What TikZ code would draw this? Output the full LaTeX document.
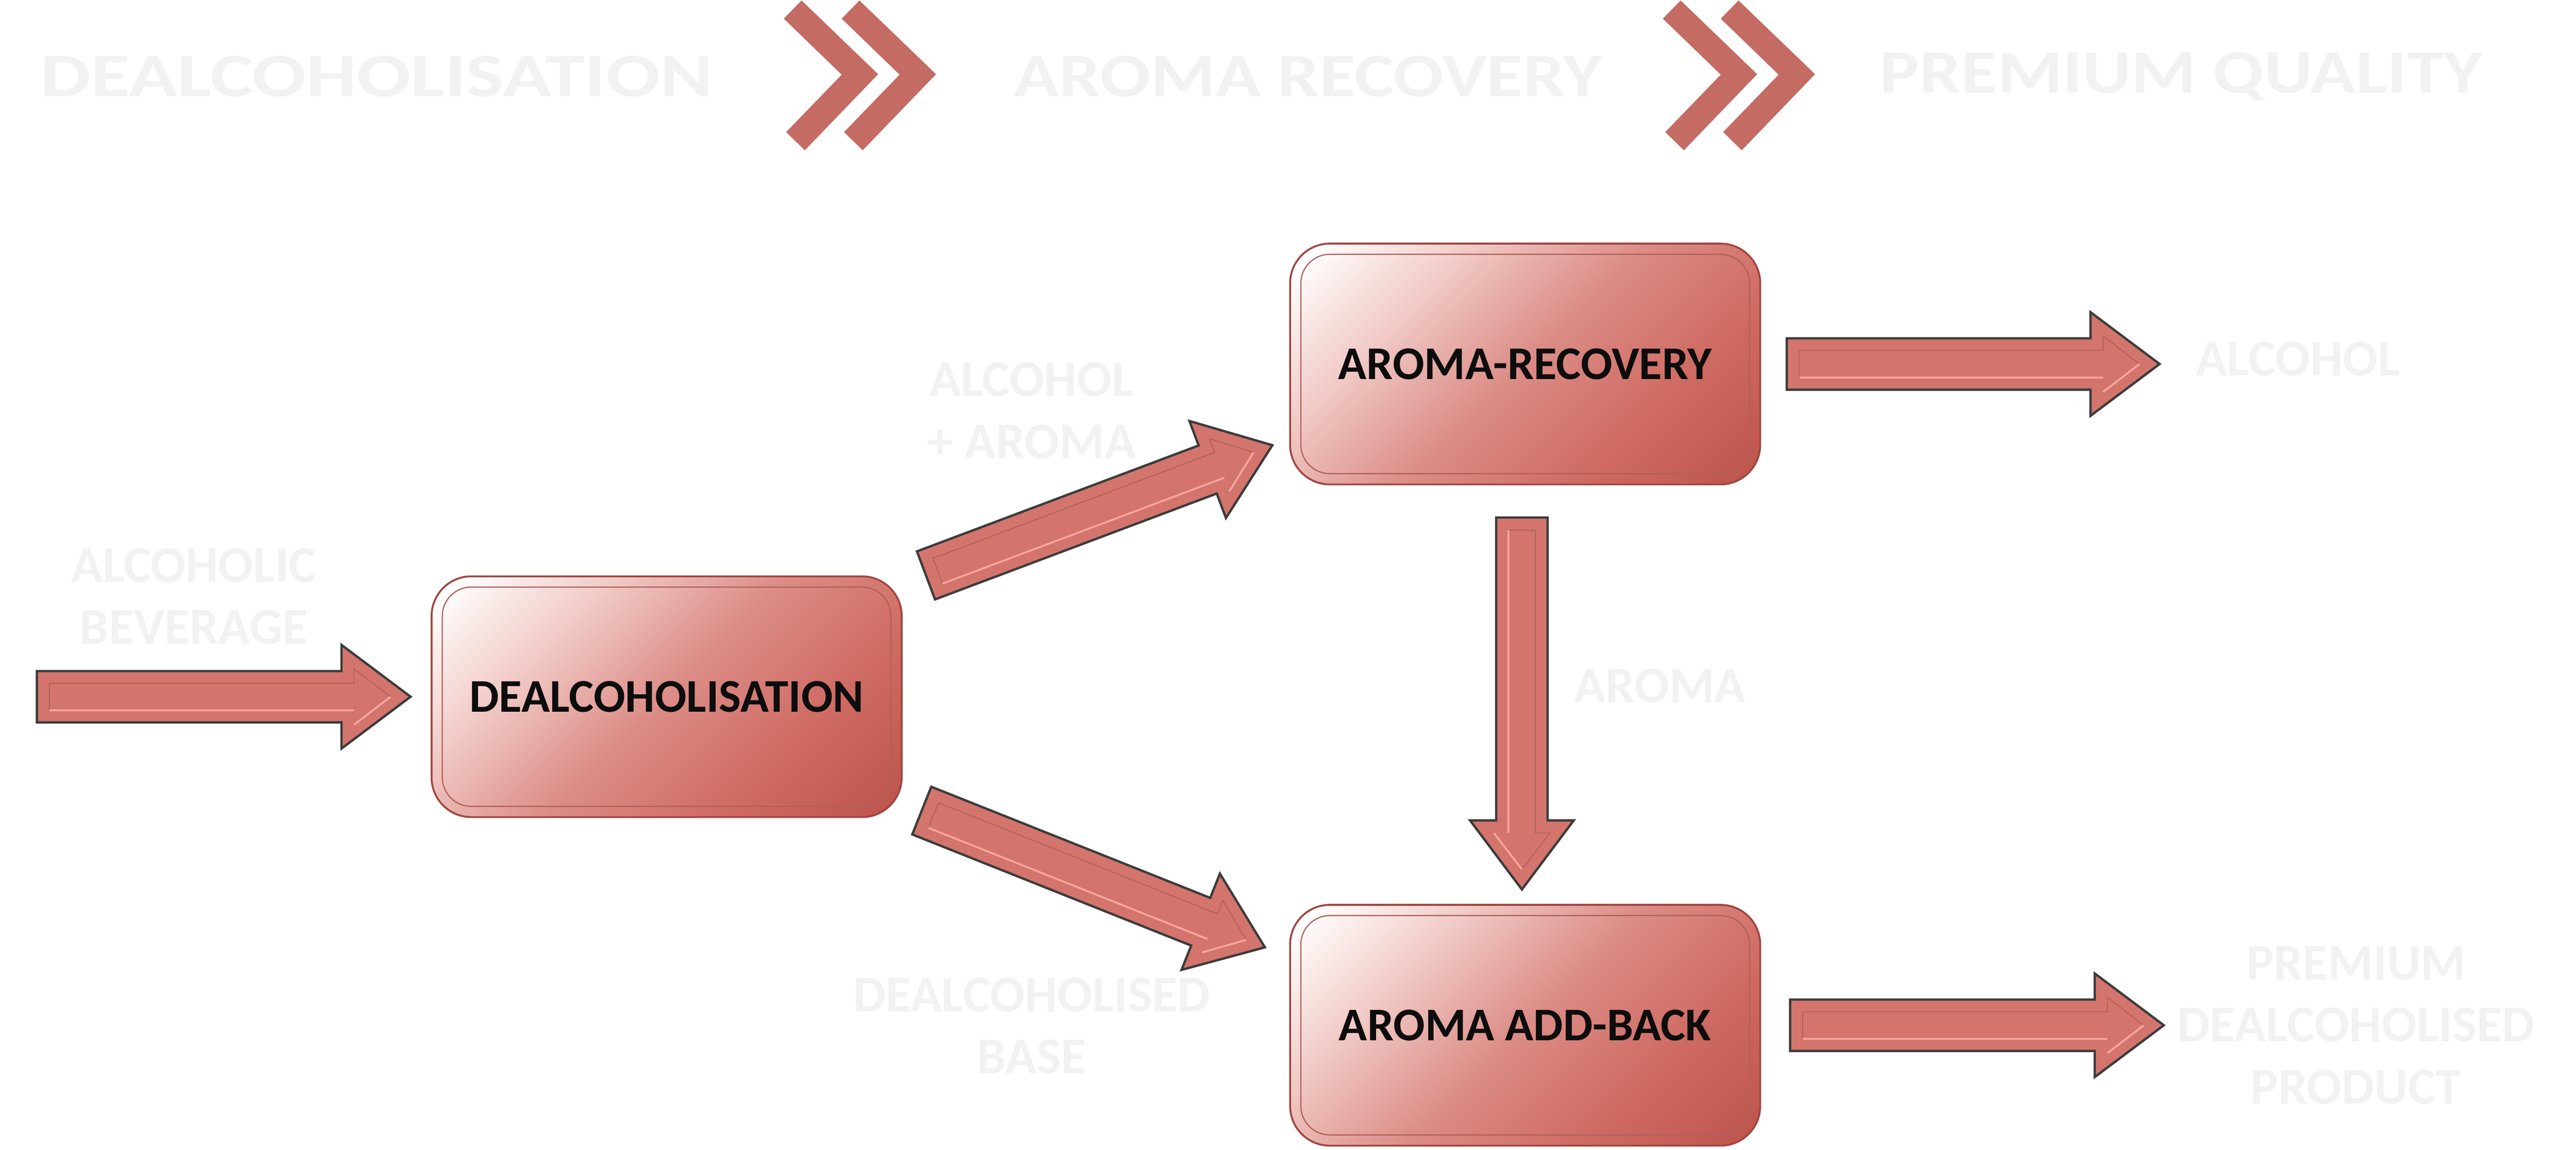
\documentclass[tikz,border=0pt]{standalone}
\usepackage{fontspec}
\setmainfont{Carlito}
\newfontfamily\stagefont[FakeStretch=1.2]{Carlito}
\newfontfamily\stagewidefont[FakeStretch=1.29]{Carlito}
\usetikzlibrary{calc}

\definecolor{chevronRed}{RGB}{196,107,99}
\definecolor{paleText}{RGB}{242,242,242}
\definecolor{arrowFill}{RGB}{211,117,109}
\definecolor{arrowEdge}{RGB}{60,60,60}
\definecolor{arrowShine}{RGB}{249,166,158}
\definecolor{arrowShade}{RGB}{176,96,90}
\definecolor{boxLight}{RGB}{242,205,201}
\definecolor{boxMid}{RGB}{220,140,134}
\definecolor{boxRose}{RGB}{206,106,98}
\definecolor{boxDark}{RGB}{186,80,72}
\definecolor{boxEdge}{RGB}{160,70,64}
\definecolor{boxText}{RGB}{13,13,13}

\pgfdeclarehorizontalshading{boxglow}{100bp}{color(0bp)=(white); color(17bp)=(white); color(32bp)=(boxLight); color(50bp)=(boxMid); color(68bp)=(boxRose); color(88bp)=(boxDark); color(100bp)=(boxDark)}

% block arrow from #1 (tail) to #2 (tip)
\newcommand{\flowArrow}[2]{%
  \coordinate (fa tail) at (#1);
  \coordinate (fa tip) at (#2);
  \coordinate (fa base) at ($(fa tip)!1.48cm!(fa tail)$);
  \coordinate (fa itail) at ($(fa tail)!0.27cm!(fa tip)$);
  \coordinate (fa ibase) at ($(fa base)!0.27cm!(fa tip)$);
  \coordinate (fa itip) at ($(fa tip)!0.43cm!(fa tail)$);
  \filldraw[fill=arrowFill, draw=arrowEdge, line width=0.05cm]
    ($(fa tail)!0.55cm!90:(fa tip)$) -- ($(fa base)!0.55cm!90:(fa tip)$)
    -- ($(fa base)!1.11cm!90:(fa tip)$) -- (fa tip)
    -- ($(fa base)!1.11cm!-90:(fa tip)$) -- ($(fa base)!0.55cm!-90:(fa tip)$)
    -- ($(fa tail)!0.55cm!-90:(fa tip)$) -- cycle;
  \draw[arrowShade, line width=0.02cm]
    ($(fa itail)!0.29cm!-90:(fa tip)$) -- ($(fa itail)!0.29cm!90:(fa tip)$)
    -- ($(fa ibase)!0.29cm!90:(fa tip)$) -- ($(fa ibase)!0.6cm!90:(fa tip)$) -- (fa itip);
  \draw[arrowShine, line width=0.04cm]
    ($(fa itail)!0.29cm!-90:(fa tip)$) -- ($(fa ibase)!0.29cm!-90:(fa tip)$)
    ($(fa ibase)!0.6cm!-90:(fa tip)$) -- (fa itip);
}

\begin{document}
\begin{tikzpicture}
   \tikzstyle{process}=[rounded corners=0.85cm, minimum width=10.07cm, minimum height=5.16cm,
      draw=boxEdge, line width=0.04cm, shade, shading=boxglow, shading angle=-45,
      text=boxText, font=\bfseries\fontsize{28.6}{34}\selectfont]
   \tikzstyle{stream}=[text=paleText, align=center, inner sep=0pt,
      font=\bfseries\fontsize{31.5}{37.8}\selectfont]
   \tikzstyle{stage}=[text=paleText, inner sep=0pt,
      font=\stagefont\bfseries\fontsize{37.8}{45}\selectfont]
   \tikzstyle{bevel}=[draw=arrowShade, line width=0.025cm, rounded corners=0.62cm]

   \useasboundingbox (0,0) rectangle (55.18,-24.64);

   % stages along the top
   \node[stage, font=\stagewidefont\bfseries\fontsize{37.8}{45}\selectfont] (StageDealc) at (8.07,-1.64) {DEALCOHOLISATION};
   \node[stage] (StageAroma) at (28.02,-1.64) {AROMA RECOVERY};
   \node[stage] (StageQuality) at (46.72,-1.64) {PREMIUM QUALITY};
   \foreach \x in {16.79, 18.03, 35.62, 36.86}
      \fill[chevronRed] (\x,-0.40) -- ++(0.38,0.39) -- ++(1.64,-1.58) -- ++(-1.57,-1.63)
         -- ++(-0.40,0.39) -- ++(1.19,1.23) -- cycle;

   % process steps
   \node[process] (Dealcoholisation) at (14.28,-14.93) {DEALCOHOLISATION};
   \node[process] (AromaRecovery) at (32.67,-7.80) {AROMA-RECOVERY};
   \node[process] (AromaAddBack) at (32.67,-21.97) {AROMA ADD-BACK};
   \foreach \b in {Dealcoholisation, AromaRecovery, AromaAddBack}
      \draw[bevel] ([shift={(0.25,-0.25)}]\b.north west) rectangle ([shift={(-0.25,0.25)}]\b.south east);

   % streams
   \node[stream] (Beverage) at (4.15,-12.78) {ALCOHOLIC\\BEVERAGE};
   \node[stream] (AlcoholAroma) at (22.10,-8.80) {ALCOHOL\\+ AROMA};
   \node[stream] (Alcohol) at (49.22,-7.69) {ALCOHOL};
   \node[stream] (Aroma) at (35.56,-14.70) {AROMA};
   \node[stream] (DealcBase) at (22.10,-21.98) {DEALCOHOLISED\\BASE};
   \node[stream] (Product) at (50.47,-21.97) {PREMIUM\\DEALCOHOLISED\\PRODUCT};

   \coordinate (Feed) at (0.79,-14.93);
   \coordinate (AlcoholOut) at (46.26,-7.80);
   \coordinate (ProductOut) at (46.35,-21.97);

   \flowArrow{Feed}{[xshift=-0.43cm]Dealcoholisation.west}
   \flowArrow{[xshift=0.50cm]Dealcoholisation.north east}{[shift={(-0.36,-1.74)}]AromaRecovery.west}
   \flowArrow{[shift={(0.41,0.16)}]Dealcoholisation.south east}{[shift={(-0.52,1.67)}]AromaAddBack.west}
   \flowArrow{[shift={(-0.07,-0.69)}]AromaRecovery.south}{[shift={(-0.07,0.31)}]AromaAddBack.north}
   \flowArrow{[xshift=0.55cm]AromaRecovery.east}{AlcoholOut}
   \flowArrow{[xshift=0.62cm]AromaAddBack.east}{ProductOut}
\end{tikzpicture}
\end{document}
